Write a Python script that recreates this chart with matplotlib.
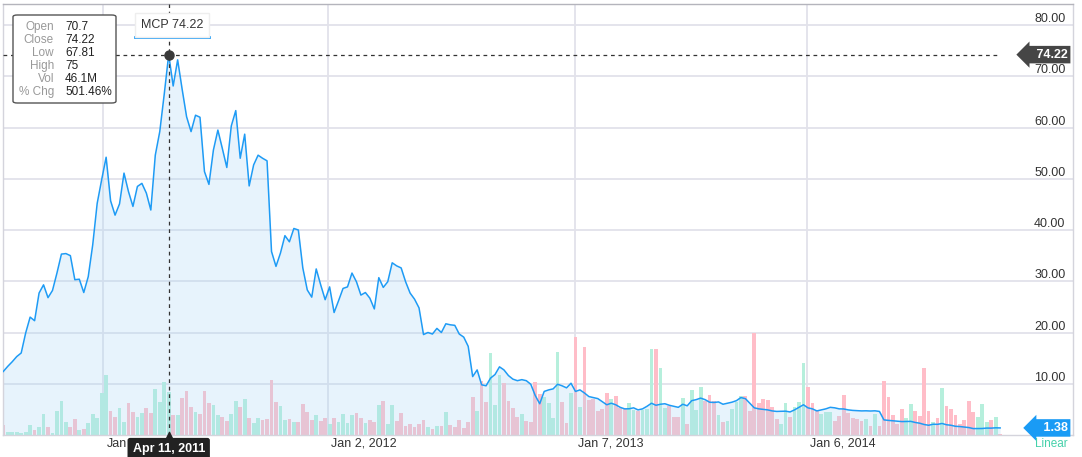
import numpy as np
import matplotlib
matplotlib.use('Agg')
import matplotlib.pyplot as plt
from matplotlib import transforms
from matplotlib.patches import FancyBboxPatch
from matplotlib.lines import Line2D

plt.rcParams['font.family'] = ['Liberation Sans', 'DejaVu Sans']

# MCP weekly close (USD)
price = [
    12.4, 13.4, 14.3, 15.3, 16.0, 19.9, 23.0, 22.3, 27.7, 29.3,
    26.8, 28.2, 31.6, 35.3, 35.4, 35.0, 30.3, 30.4, 27.8, 30.9,
    37.1, 45.2, 49.8, 54.2, 45.7, 42.9, 45.1, 51.1, 47.5, 44.6,
    48.5, 49.1, 47.2, 43.9, 54.6, 59.2, 66.5, 74.22, 68.1, 73.2,
    67.5, 62.1, 59.2, 62.4, 62.0, 51.4, 48.9, 55.6, 59.5, 55.9,
    52.2, 60.3, 63.3, 54.0, 58.7, 48.6, 52.7, 54.6, 54.0, 53.5,
    35.8, 32.9, 35.5, 38.9, 37.7, 40.3, 40.0, 32.6, 28.3, 26.9,
    32.4, 29.3, 26.4, 28.9, 23.9, 26.2, 28.6, 28.9, 31.6, 29.9,
    27.3, 27.8, 26.7, 24.6, 30.7, 28.8, 29.9, 33.6, 33.0, 32.6,
    29.9, 27.7, 26.5, 24.8, 19.6, 20.0, 19.7, 20.8, 20.0, 21.7,
    21.5, 21.4, 19.7, 19.1, 17.3, 11.4, 12.7, 9.8, 9.6, 11.1,
    11.8, 13.3, 12.7, 11.6, 10.9, 10.6, 10.8, 10.6, 9.9, 7.7,
    6.1, 8.5, 8.8, 9.0, 9.9, 9.6, 9.2, 10.1, 8.5, 8.8,
    8.2, 7.5, 7.3, 7.1, 6.5, 5.9, 6.2, 5.9, 5.4, 5.1,
    5.12, 5.3, 4.9, 5.1, 5.6, 6.2, 5.8, 6.0, 6.1, 5.8,
    5.6, 5.4, 6.0, 5.7, 6.7, 6.9, 7.2, 6.9, 6.4, 6.35,
    6.45, 6.0, 6.2, 6.4, 6.7, 7.3, 7.1, 6.2, 5.3, 5.1,
    5.0, 4.9, 4.7, 4.6, 4.62, 4.65, 4.5, 4.9, 5.4, 5.9,
    5.3, 5.1, 4.7, 4.9, 5.1, 5.4, 5.3, 5.1, 5.08, 4.9,
    4.8, 4.75, 4.7, 4.72, 4.68, 4.72, 4.6, 2.95, 2.85, 2.78,
    2.7, 2.62, 2.64, 2.66, 2.45, 2.3, 2.05, 1.9, 2.1, 2.08,
    2.25, 2.0, 1.9, 1.7, 1.65, 1.55, 1.45, 1.25, 1.26, 1.27,
    1.35, 1.34, 1.40, 1.38,
]

# weekly volume (millions of shares)
volume = [
    10.6, 2.7, 2.7, 2.7, 2.1, 2.7, 10.6, 5.3, 8.2, 21.9,
    8.2, 2.4, 25.8, 36.4, 14.1, 8.2, 16.6, 5.3, 6.7, 12.4,
    22.3, 18.3, 44.8, 63.6, 25.8, 19.4, 28.3, 14.1, 34.2, 24.7,
    18.8, 23.6, 28.9, 23.6, 48.8, 35.3, 56.5, 46.1, 21.2, 21.2,
    39.5, 47.0, 30.0, 24.4, 22.3, 46.6, 34.2, 31.5, 21.2, 18.8,
    14.8, 22.6, 35.7, 29.7, 37.8, 17.7, 13.0, 17.7, 15.6, 17.3,
    58.3, 35.3, 31.1, 15.9, 17.0, 14.1, 14.1, 32.9, 24.4, 15.6,
    20.9, 14.5, 18.3, 11.7, 17.7, 13.5, 22.3, 13.0, 21.2, 23.0,
    17.7, 13.0, 15.9, 13.5, 31.8, 36.0, 11.7, 31.5, 14.8, 23.0,
    9.5, 11.7, 8.5, 11.3, 15.9, 8.5, 6.4, 9.5, 9.5, 24.4,
    10.6, 8.2, 15.9, 7.1, 13.8, 40.6, 25.4, 57.6, 35.0, 86.6,
    31.8, 63.6, 54.8, 36.0, 28.6, 19.4, 22.6, 14.5, 13.5, 56.5,
    43.5, 40.6, 34.2, 17.7, 88.3, 35.3, 13.0, 44.2, 104.2, 29.4,
    93.0, 37.1, 38.2, 25.8, 27.2, 44.8, 38.2, 41.7, 28.3, 27.6,
    33.6, 26.5, 25.4, 26.5, 27.2, 91.2, 90.8, 71.3, 28.3, 31.1,
    19.4, 19.4, 39.5, 11.7, 47.4, 26.5, 50.9, 36.0, 42.4, 36.0,
    21.2, 13.5, 14.8, 27.6, 34.7, 41.3, 41.3, 25.8, 107.8, 33.6,
    38.2, 37.1, 29.4, 17.0, 11.7, 33.6, 18.8, 30.0, 35.3, 76.0,
    51.2, 33.6, 25.8, 22.6, 24.7, 24.1, 14.8, 20.5, 42.4, 23.0,
    18.3, 16.6, 15.2, 16.6, 9.5, 22.3, 9.5, 57.2, 40.6, 21.2,
    11.7, 27.2, 18.3, 32.5, 25.8, 20.1, 70.7, 25.4, 13.5, 18.3,
    50.1, 30.7, 27.6, 21.2, 11.7, 15.9, 36.4, 24.1, 19.4, 32.5,
    13.5, 15.9, 19.4, 1.4,
]

# first label is mostly hidden by the hover date box
tick_labels = ['Jan', 'Jan 2, 2012', 'Jan 7, 2013', 'Jan 6, 2014']
tick_pos = [22.4, 72.6, 127.9, 179.7]
price_levels = [10, 20, 30, 40, 50, 60, 70, 80]

tip_names = ['Open', 'Close', 'Low', 'High', 'Vol', '% Chg']
tip_values = ['70.7', '74.22', '67.81', '75', '46.1M', '501.46%']
hover_date = 'Apr 11, 2011'

BLUE = '#1e9bf5'
GREEN = '#b6efdc'
PINK = '#ffbdc8'
GRID = '#e2e2ea'

price = np.array(price)
volume = np.array(volume)
x = np.arange(len(price))
prev = np.concatenate([[np.inf], price[:-1]])
bar_colors = np.where(price > prev, GREEN, PINK)

W, H = 1082, 457
fig = plt.figure(figsize=(W / 100, H / 100), dpi=100)
ax = fig.add_axes([3 / W, 22 / H, 1070 / W, 431 / H])

ymax = 84.1
vmax = 457.0
ax.set_xlim(-0.07, 239.3)
ax.set_ylim(0, ymax)

# volume bars under the price area
ax.bar(x, volume * ymax / vmax, width=0.84, color=bar_colors, linewidth=0, zorder=1)
ax.fill_between(x, price, 0, color='#aad7f5', alpha=0.28, linewidth=0, zorder=2)
ax.plot(x, price, color=BLUE, lw=1.1, zorder=3)

# grid + axes
ax.set_yticks(price_levels)
ax.set_yticklabels(['%.2f' % v for v in price_levels])
ax.yaxis.tick_right()
ax.tick_params(axis='y', length=0, pad=-28, labelsize=9, labelcolor='#333333')
for lab in ax.get_yticklabels():
    lab.set_va('bottom')
ax.set_xticks(tick_pos)
ax.set_xticklabels(tick_labels)
ax.tick_params(axis='x', length=0, pad=2, labelsize=9, labelcolor='#333333')
shift = transforms.ScaledTranslation(3 / 100, 0, fig.dpi_scale_trans)
for lab in ax.get_xticklabels():
    lab.set_ha('left')
    lab.set_transform(lab.get_transform() + shift)
ax.grid(True, color=GRID, lw=1.3, zorder=0)
ax.set_axisbelow(True)
for side, sp in ax.spines.items():
    sp.set_color('#d4d4dc')
    sp.set_linewidth(1)
ax.spines['top'].set_color('#b4b4bc')

# crosshair on the peak week
ipk = int(np.argmax(price))
ax.axvline(ipk, color='#333333', lw=0.9, ls=(0, (3, 3)), zorder=4)
ax.hlines(price[ipk], -0.07, len(price) - 1, color='#333333', lw=0.9,
          ls=(0, (3, 3)), zorder=4)
ax.plot(ipk, price[ipk], 'o', color='#3a3a3a', ms=6.5, zorder=5)

ax.annotate(hover_date, xy=(ipk, 0), xycoords=('data', 'axes fraction'),
            xytext=(0, -10), textcoords='offset points', ha='center', va='center',
            color='white', fontsize=9, fontweight='bold', zorder=10,
            bbox=dict(boxstyle='round,pad=0.4,rounding_size=0.2', fc='#222222', ec='none'),
            annotation_clip=False)
ax.plot(ipk, 0, marker='^', color='#222222', ms=4, clip_on=False, zorder=10,
        transform=transforms.blended_transform_factory(ax.transData, ax.transAxes))

# price flags on the right
blend = transforms.blended_transform_factory(ax.transAxes, ax.transData)
for val, col in [(price[ipk], '#464646'), (price[-1], '#1a9bf5')]:
    ax.text(0.995, val, '   %.2f' % val, transform=blend, ha='right', va='center',
            color='white', fontsize=9, fontweight='bold', zorder=10,
            bbox=dict(boxstyle='larrow,pad=0.22', fc=col, ec='none'))
fig.text(1068 / W, 1 - 444 / H, 'Linear', ha='right', va='center', color='#45d1aa', fontsize=8.5)

# legend chip
fig.text(172 / W, 1 - 25 / H, 'MCP %.2f' % price[ipk], ha='center', va='center',
         fontsize=9, color='#333333', zorder=10,
         bbox=dict(boxstyle='square,pad=0.5', fc='white', ec='#eeeeee'))
fig.add_artist(Line2D([135 / W, 209 / W], [1 - 37 / H, 1 - 37 / H], color=BLUE, lw=2))

# tooltip
box = FancyBboxPatch((13 / W, 1 - 103 / H), 103 / W, 88 / H,
                     boxstyle='round,pad=0,rounding_size=0.004',
                     transform=fig.transFigure, fc='white', ec='#555555', lw=1, zorder=20)
fig.add_artist(box)
for k, (n, v) in enumerate(zip(tip_names, tip_values)):
    yy = 1 - (26.7 + 13.1 * k) / H
    fig.text(54 / W, yy, n, ha='right', va='center', fontsize=8.5, color='#999999', zorder=21)
    fig.text(65 / W, yy, v, ha='left', va='center', fontsize=8.5, color='#222222', zorder=21)

fig.savefig('out.png', dpi=100)
